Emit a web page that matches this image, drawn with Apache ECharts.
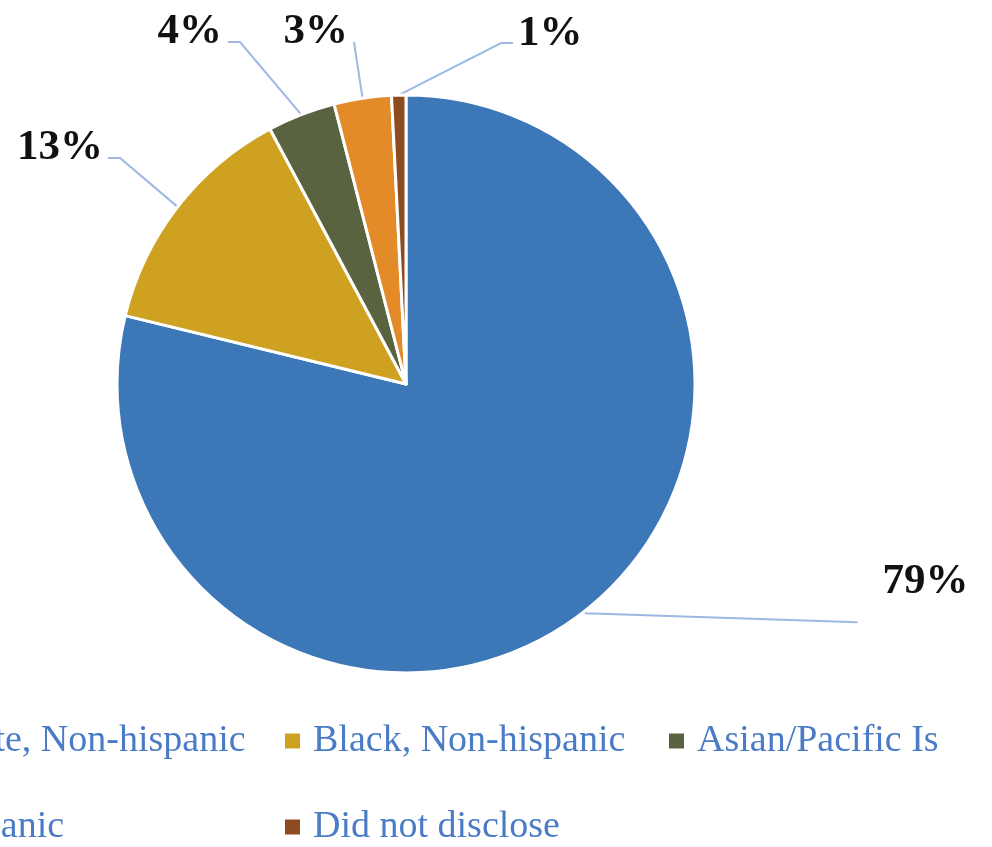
<!DOCTYPE html>
<html>
<head>
<meta charset="utf-8">
<script src="https://cdn.jsdelivr.net/npm/echarts@6/dist/echarts.min.js"></script>
<style>
html,body{margin:0;padding:0;background:#fff;}
#chart{width:992px;height:847px;}
</style>
</head>
<body>
<div id="chart"></div>
<script>
// ---- data ----
const categories = ['White, Non-hispanic', 'Black, Non-hispanic', 'Asian/Pacific Is', 'Hispanic', 'Did not disclose'];
const shares = [78.8, 13.4, 3.8, 3.2, 0.8];

// ---- styling (not data) ----
const colors = ['#3C77B8', '#CEA220', '#5A6340', '#E38A29', '#8F4B20'];
// label line geometry relative to the slice edge point: elbow offset, then horizontal run
const elbowOffsets = [[1, 2], [-57.6, -48.9], [-61.3, -72.6], [-8.6, -56.3], [102.3, -52.1]];
const runs = [[272, 9], [-12, 0], [-12, 0], [0, 0], [12, 0]];
const labelOffsets = [[25, -40], [-5, -10], [-6, -10], [-6, -10], [5, -9]];
const labelAligns = ['left', 'right', 'right', 'right', 'left'];
const legendSlots = [[-101, 721], [283, 721], [667, 721], [-101, 807], [283, 807]];

const chart = echarts.init(document.getElementById('chart'), null, {renderer: 'canvas'});

const data = categories.map((c, i) => ({
  name: c,
  value: shares[i],
  itemStyle: {color: colors[i]}
}));

const legends = categories.map((c, i) => ({
  data: [c],
  left: legendSlots[i][0],
  top: legendSlots[i][1],
  orient: 'horizontal',
  padding: 0,
  itemWidth: 17,
  itemHeight: 17,
  icon: 'rect',
  selectedMode: false,
  textStyle: {
    fontFamily: 'Liberation Serif',
    fontSize: 38,
    lineHeight: 40,
    color: '#4A7BC6',
    padding: [0, 0, 0, 7]
  }
}));

chart.setOption({
  animation: false,
  backgroundColor: '#ffffff',
  legend: legends,
  series: [{
    type: 'pie',
    center: [406, 384],
    radius: 289,
    startAngle: 90,
    clockwise: true,
    avoidLabelOverlap: false,
    data: data,
    itemStyle: {borderColor: '#ffffff', borderWidth: 3},
    label: {
      show: true,
      position: 'outside',
      formatter: p => Math.round(p.percent) + '%',
      fontFamily: 'Liberation Serif',
      fontWeight: 'bold',
      fontSize: 43,
      color: '#111111'
    },
    labelLine: {
      show: true,
      lineStyle: {color: '#9DB9E3', width: 2}
    },
    labelLayout: function (params) {
      const i = params.dataIndex;
      const p0 = params.labelLinePoints[0];
      const p1 = [p0[0] + elbowOffsets[i][0], p0[1] + elbowOffsets[i][1]];
      const p2 = [p1[0] + runs[i][0], p1[1] + runs[i][1]];
      return {
        x: p2[0] + labelOffsets[i][0],
        y: p2[1] + labelOffsets[i][1],
        align: labelAligns[i],
        verticalAlign: 'middle',
        labelLinePoints: [p0, p1, p2]
      };
    }
  }]
});
</script>
</body>
</html>
